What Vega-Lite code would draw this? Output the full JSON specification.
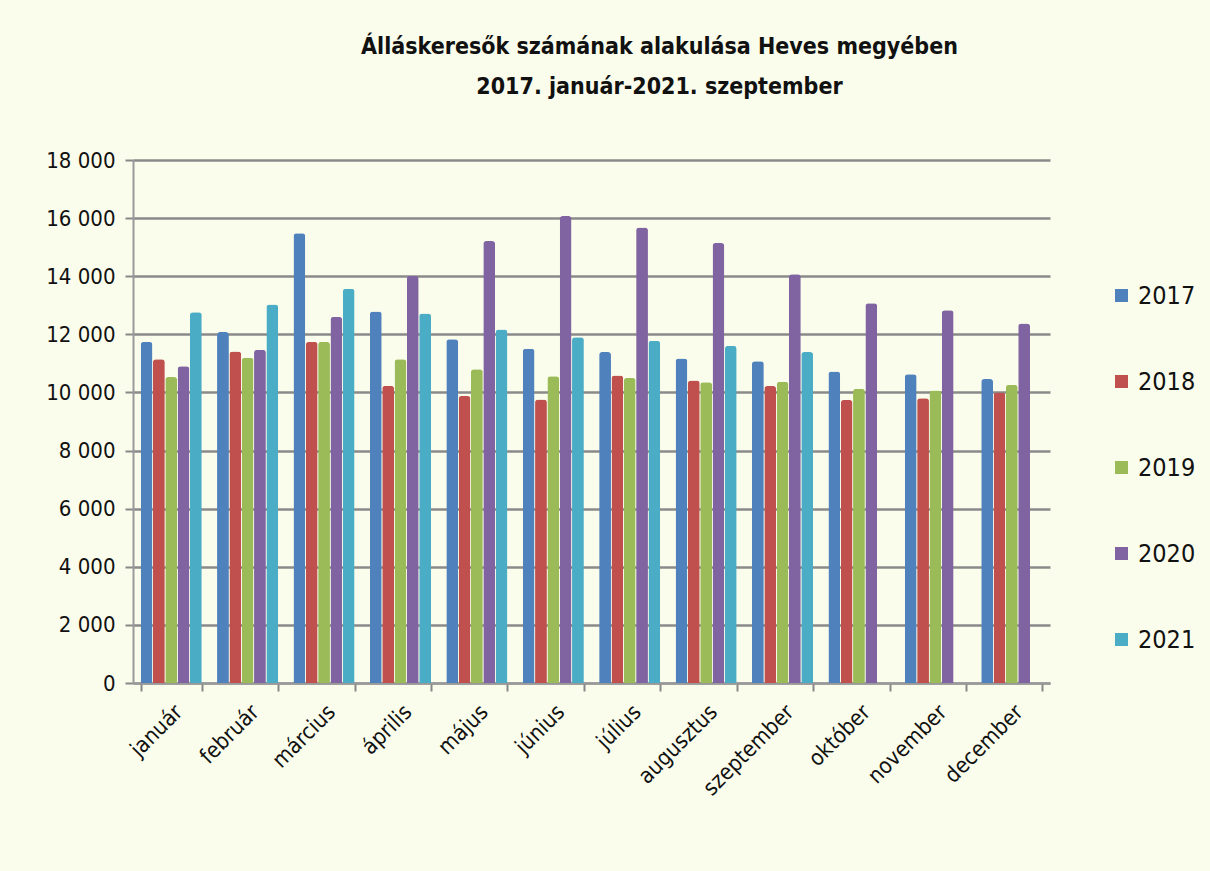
{
  "$schema": "https://vega.github.io/schema/vega-lite/v6.json",
  "autosize": {"type": "none"},
  "padding": {"left": 133, "top": 160, "right": 160, "bottom": 188},
  "width": 917,
  "height": 523,
  "background": "#fafdec",
  "title": {
    "text": ["Álláskeresők számának alakulása Heves megyében", "2017. január-2021. szeptember"],
    "fontSize": 23,
    "fontWeight": "bold",
    "font": "DejaVu Sans Condensed, sans-serif",
    "color": "#111",
    "anchor": "middle",
    "dx": 68,
    "offset": 50,
    "lineHeight": 40
  },
  "data": {
    "values": [
      {"honap": "január", "ev": "2017", "fo": 11740},
      {"honap": "január", "ev": "2018", "fo": 11140},
      {"honap": "január", "ev": "2019", "fo": 10530},
      {"honap": "január", "ev": "2020", "fo": 10900},
      {"honap": "január", "ev": "2021", "fo": 12760},
      {"honap": "február", "ev": "2017", "fo": 12080},
      {"honap": "február", "ev": "2018", "fo": 11410},
      {"honap": "február", "ev": "2019", "fo": 11190},
      {"honap": "február", "ev": "2020", "fo": 11470},
      {"honap": "február", "ev": "2021", "fo": 13030},
      {"honap": "március", "ev": "2017", "fo": 15480},
      {"honap": "március", "ev": "2018", "fo": 11740},
      {"honap": "március", "ev": "2019", "fo": 11740},
      {"honap": "március", "ev": "2020", "fo": 12600},
      {"honap": "március", "ev": "2021", "fo": 13570},
      {"honap": "április", "ev": "2017", "fo": 12790},
      {"honap": "április", "ev": "2018", "fo": 10230},
      {"honap": "április", "ev": "2019", "fo": 11140},
      {"honap": "április", "ev": "2020", "fo": 14010},
      {"honap": "április", "ev": "2021", "fo": 12720},
      {"honap": "május", "ev": "2017", "fo": 11830},
      {"honap": "május", "ev": "2018", "fo": 9880},
      {"honap": "május", "ev": "2019", "fo": 10800},
      {"honap": "május", "ev": "2020", "fo": 15210},
      {"honap": "május", "ev": "2021", "fo": 12170},
      {"honap": "június", "ev": "2017", "fo": 11500},
      {"honap": "június", "ev": "2018", "fo": 9760},
      {"honap": "június", "ev": "2019", "fo": 10560},
      {"honap": "június", "ev": "2020", "fo": 16070},
      {"honap": "június", "ev": "2021", "fo": 11900},
      {"honap": "július", "ev": "2017", "fo": 11390},
      {"honap": "július", "ev": "2018", "fo": 10580},
      {"honap": "július", "ev": "2019", "fo": 10500},
      {"honap": "július", "ev": "2020", "fo": 15680},
      {"honap": "július", "ev": "2021", "fo": 11780},
      {"honap": "augusztus", "ev": "2017", "fo": 11170},
      {"honap": "augusztus", "ev": "2018", "fo": 10410},
      {"honap": "augusztus", "ev": "2019", "fo": 10350},
      {"honap": "augusztus", "ev": "2020", "fo": 15140},
      {"honap": "augusztus", "ev": "2021", "fo": 11600},
      {"honap": "szeptember", "ev": "2017", "fo": 11070},
      {"honap": "szeptember", "ev": "2018", "fo": 10220},
      {"honap": "szeptember", "ev": "2019", "fo": 10370},
      {"honap": "szeptember", "ev": "2020", "fo": 14070},
      {"honap": "szeptember", "ev": "2021", "fo": 11390},
      {"honap": "október", "ev": "2017", "fo": 10720},
      {"honap": "október", "ev": "2018", "fo": 9740},
      {"honap": "október", "ev": "2019", "fo": 10130},
      {"honap": "október", "ev": "2020", "fo": 13070},
      {"honap": "november", "ev": "2017", "fo": 10630},
      {"honap": "november", "ev": "2018", "fo": 9800},
      {"honap": "november", "ev": "2019", "fo": 10070},
      {"honap": "november", "ev": "2020", "fo": 12830},
      {"honap": "december", "ev": "2017", "fo": 10460},
      {"honap": "december", "ev": "2018", "fo": 10000},
      {"honap": "december", "ev": "2019", "fo": 10260},
      {"honap": "december", "ev": "2020", "fo": 12370}
    ]
  },
  "mark": {"type": "bar", "cornerRadiusTopLeft": 3, "cornerRadiusTopRight": 3},
  "encoding": {
    "x": {
      "field": "honap",
      "type": "nominal",
      "sort": ["január", "február", "március", "április", "május", "június", "július", "augusztus", "szeptember", "október", "november", "december"],
      "scale": {"paddingInner": 0.2, "paddingOuter": 0.1},
      "axis": {
        "title": null,
        "labelAngle": -45,
        "labelFontSize": 22,
        "labelFont": "DejaVu Sans Condensed, sans-serif",
        "labelColor": "#111",
        "labelPadding": 10,
        "tickBand": "extent",
        "tickColor": "#888",
        "tickSize": 8,
        "tickWidth": 2,
        "domainColor": "#999",
        "domainWidth": 2
      }
    },
    "xOffset": {
      "field": "ev",
      "type": "nominal",
      "scale": {"domain": ["2017", "2018", "2019", "2020", "2021"], "paddingInner": 0.04}
    },
    "y": {
      "field": "fo",
      "type": "quantitative",
      "scale": {"domain": [0, 18000]},
      "axis": {
        "title": null,
        "values": [0, 2000, 4000, 6000, 8000, 10000, 12000, 14000, 16000, 18000],
        "labelExpr": "replace(format(datum.value, ','), ',', ' ')",
        "labelFontSize": 22,
        "labelFont": "DejaVu Sans Condensed, sans-serif",
        "labelColor": "#111",
        "labelPadding": 10,
        "tickColor": "#888",
        "tickSize": 8,
        "tickWidth": 2,
        "domainColor": "#999",
        "domainWidth": 2,
        "grid": true,
        "gridColor": "#8a8a8a",
        "gridWidth": 2.5
      }
    },
    "color": {
      "field": "ev",
      "type": "nominal",
      "scale": {
        "domain": ["2017", "2018", "2019", "2020", "2021"],
        "range": ["#4f81bd", "#c0504d", "#9bbb59", "#8064a2", "#4bacc6"]
      },
      "legend": {
        "title": null,
        "orient": "none",
        "legendX": 976,
        "legendY": 123,
        "symbolType": "square",
        "symbolSize": 170,
        "symbolStrokeWidth": 0,
        "labelFontSize": 25,
        "labelFont": "DejaVu Sans Condensed, sans-serif",
        "labelColor": "#111",
        "rowPadding": 60,
        "labelOffset": 4
      }
    }
  },
  "config": {
    "view": {"stroke": null}
  }
}
